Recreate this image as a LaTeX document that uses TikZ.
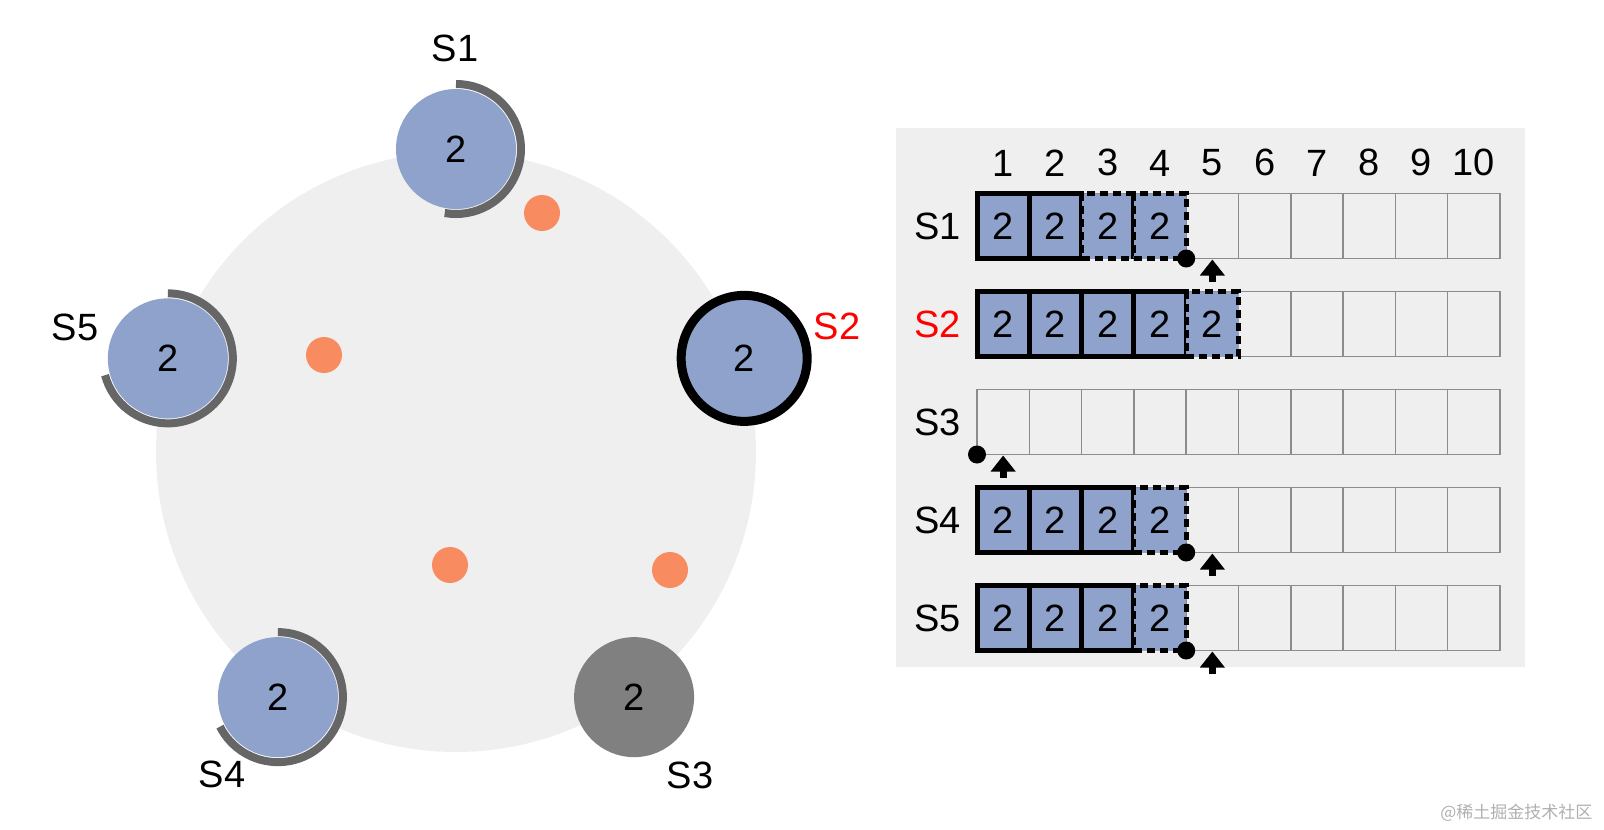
\documentclass[tikz,border=0pt]{standalone}
\usepackage{fontspec}
\setmainfont{Liberation Sans}
\newfontfamily\cjk{Noto Sans CJK SC}
\usetikzlibrary{arrows.meta, positioning}

\definecolor{logblue}{RGB}{142,162,204}
\definecolor{panel}{RGB}{239,239,239}
\definecolor{votecol}{RGB}{248,140,96}
\definecolor{tailgray}{RGB}{102,102,102}
\definecolor{downgray}{RGB}{128,128,128}
\definecolor{gridgray}{RGB}{140,140,140}
\definecolor{markgray}{RGB}{175,175,175}

\begin{document}
\begin{tikzpicture}[
    x=1pt, y=-1pt,
    lbl/.style={inner sep=0pt, font=\fontsize{38}{44}\selectfont},
    srv/.style={circle, fill=logblue, minimum size=120pt, inner sep=0pt, font=\fontsize{38}{44}\selectfont},
    tail/.style={draw=tailgray, line width=8pt},
    vote/.style={circle, fill=votecol, minimum size=36pt, inner sep=0pt},
    cell/.style={draw=gridgray, line width=1.5pt, minimum width=52.3pt, minimum height=65pt, inner sep=0pt, outer sep=0pt},
    done/.style={cell, draw=black, fill=logblue, line width=5pt, font=\fontsize{38}{44}\selectfont},
    pend/.style={done, dash pattern=on 8pt off 5pt},
    ptr/.style={-{Triangle[width=24pt, length=16pt]}, line width=7pt}
]
\useasboundingbox (0,0) rectangle (1604,830);

% cluster
\node[circle, fill=panel, minimum size=600pt, inner sep=0pt] (cluster) at (456,452) {};

\node[vote] (v1) at (542,213) {};
\node[vote] (v2) at (324,355) {};
\node[vote] (v3) at (450,565) {};
\node[vote] (v4) at (670,570) {};

\node[srv] (s1) at ([shift={(90:303pt)}]cluster.center) {2};
\node[srv, draw=black, line width=9pt, minimum size=126pt] (s2) at ([shift={(18:303pt)}]cluster.center) {2};
\node[srv, fill=downgray] (s3) at ([shift={(-54:303pt)}]cluster.center) {2};
\node[srv] (s4) at ([shift={(-126:303pt)}]cluster.center) {2};
\node[srv] (s5) at ([shift={(162:303pt)}]cluster.center) {2};

\draw[tail] ([shift={(90:65pt)}]s1.center) arc[start angle=90, end angle=-100, radius=65pt];
\draw[tail] ([shift={(90:65pt)}]s4.center) arc[start angle=90, end angle=-153, radius=65pt];
\draw[tail] ([shift={(90:65pt)}]s5.center) arc[start angle=90, end angle=-165, radius=65pt];

\node[lbl] (l1) at (455,48) {S1};
\node[lbl, text=red] (l2) at (837,326) {S2};
\node[lbl] (l3) at (690,775) {S3};
\node[lbl] (l4) at (222,774) {S4};
\node[lbl] (l5) at (75,327) {S5};

% logs
\fill[panel] (896,128) rectangle (1525,667);

\foreach \r in {1,...,5}
  \foreach \c in {1,...,10}
    \node[cell] (c-\r-\c) at ({950.85+52.3*\c}, {226+98*(\r-1)}) {};

\foreach \c in {1,...,10}
  \node[lbl, above=17pt of c-1-\c] (n\c) {\c};

\foreach \r in {1,3,4,5}
  \node[lbl, left=16pt of c-\r-1] (row\r) {S\r};
\node[lbl, text=red, left=16pt of c-2-1] (row2) {S2};

\foreach \r/\n in {1/2, 2/4, 4/3, 5/3}
  \foreach \c in {1,...,\n}
    \node[done] (d-\r-\c) at (c-\r-\c) {2};
\foreach \r/\c in {1/3, 1/4, 2/5, 4/4, 5/4}
  \node[pend] (p-\r-\c) at (c-\r-\c) {2};

\fill (c-1-4.south east) circle[radius=9pt];
\draw[ptr] ([yshift=-23pt]c-1-5.south) -- ([yshift=-1pt]c-1-5.south);
\fill (c-3-1.south west) circle[radius=9pt];
\draw[ptr] ([yshift=-23pt]c-3-1.south) -- ([yshift=-1pt]c-3-1.south);
\fill (c-4-4.south east) circle[radius=9pt];
\draw[ptr] ([yshift=-23pt]c-4-5.south) -- ([yshift=-1pt]c-4-5.south);
\fill (c-5-4.south east) circle[radius=9pt];
\draw[ptr] ([yshift=-23pt]c-5-5.south) -- ([yshift=-1pt]c-5-5.south);

\node[anchor=east, text=markgray, font=\cjk\fontsize{17}{20}\selectfont] (mark) at (1596,813) {@稀土掘金技术社区};
\end{tikzpicture}
\end{document}
